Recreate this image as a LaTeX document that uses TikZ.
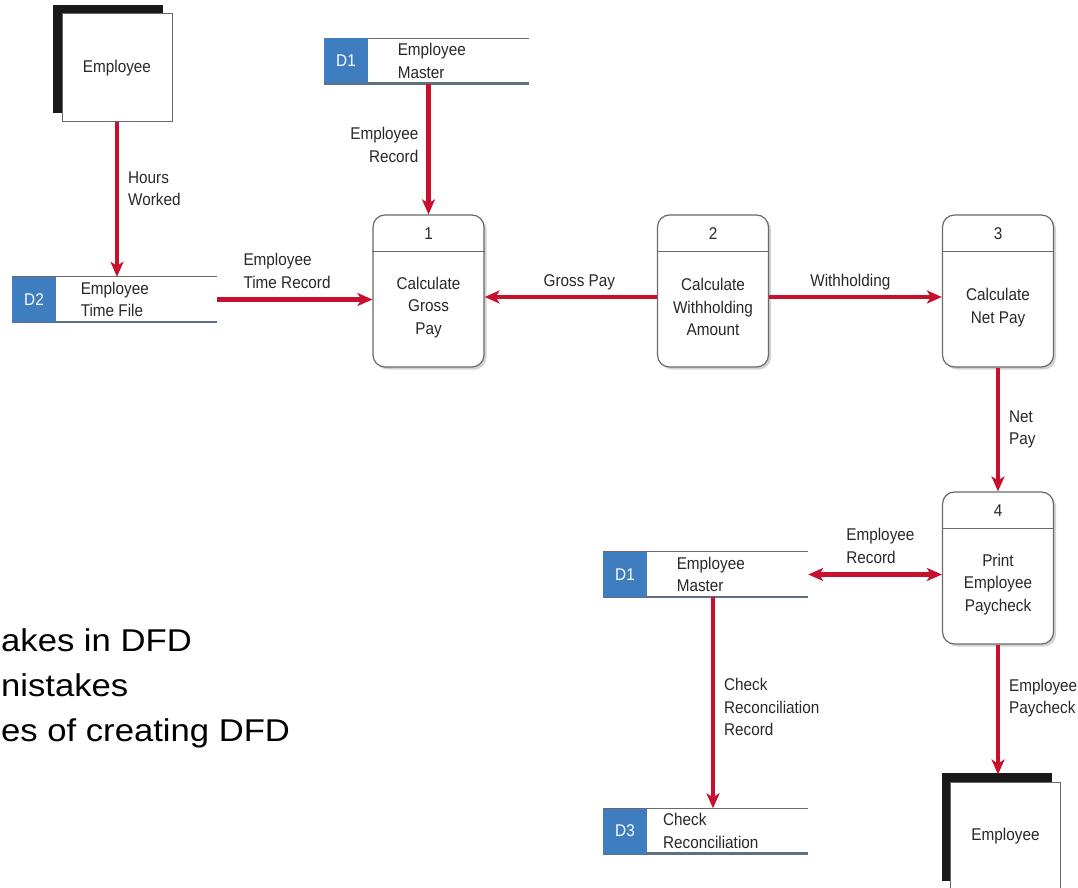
\documentclass[tikz,border=0pt]{standalone}
\usepackage{fontspec}
\setmainfont{Liberation Sans}
\newfontfamily\dfdfont[FakeStretch=0.9]{Liberation Sans}
\newfontfamily\slidefont[FakeStretch=1.1]{Liberation Sans}
\usetikzlibrary{arrows.meta,positioning,shadows}
\definecolor{flowred}{RGB}{200,16,46}
\definecolor{storeblue}{RGB}{61,125,192}
\definecolor{boxgray}{RGB}{105,105,105}
\definecolor{storeline}{RGB}{95,112,130}
\definecolor{labgray}{RGB}{40,40,40}
\tikzset{
  >={Stealth[length=15pt,width=13pt,inset=4pt]},
  lab/.style={font=\dfdfont\fontsize{17}{22.5}\selectfont, text=labgray, inner sep=2pt},
  flow/.style={flowred, line width=4.3pt, ->},
  procbox/.style={draw=boxgray, line width=1.2pt, fill=white, rounded corners=12pt,
    minimum width=111pt, minimum height=152pt, inner sep=0pt,
    drop shadow={shadow xshift=2.5pt, shadow yshift=-2.5pt, opacity=.35}},
  storebox/.style={minimum width=205pt, minimum height=45pt, inner sep=0pt},
  storeid/.style={lab, fill=storeblue, text=white, minimum width=44pt, minimum height=45pt, inner sep=0pt},
  entbox/.style={lab, draw=boxgray, line width=1pt, fill=white, minimum width=110pt, minimum height=108pt,
    general shadow={fill=black!90, shadow xshift=-9pt, shadow yshift=9pt}},
  bullet/.style={anchor=base west, font=\slidefont\fontsize{31.5}{40}\selectfont, inner sep=0pt}
}
% proceso: nombre, posicion, numero, texto
\newcommand{\dfdproc}[4]{%
  \node[procbox] (#1) at (#2) {};
  \draw[boxgray, line width=1.2pt] ([yshift=-37pt]#1.north west) -- ([yshift=-37pt]#1.north east);
  \node[lab] at ([yshift=-19pt]#1.north) {#3};
  \node[lab, align=center] at ([yshift=-93pt]#1.north) {#4};
}
% almacen: [desplazamiento del texto], nombre, posicion, id, texto
\newcommand{\dfdstore}[5][108pt]{%
  \node[storebox] (#2) at (#3) {};
  \draw[boxgray, line width=.8pt] (#2.north west) -- (#2.north east);
  \draw[storeline, line width=2.5pt] (#2.south west) -- (#2.south east);
  \node[storeid, anchor=west] at (#2.west) {#4};
  \node[lab, align=left] at ([xshift=#1]#2.west) {#5};
}
\begin{document}
\begin{tikzpicture}[x=1pt,y=-1pt]
\useasboundingbox (0,0) rectangle (1078,888);
\clip (0,0) rectangle (1078,888);
% Entidades externas
\node[entbox] (emp1) at (117,68) {Employee};
\node[entbox] (emp2) at (1005.5,836) {Employee};
% Almacenes de datos
\dfdstore[103pt]{d2}{114.5,299.5}{D2}{Employee\\Time File}
\dfdstore{d1a}{426.5,61}{D1}{Employee\\Master}
\dfdstore{d1b}{705.5,574.5}{D1}{Employee\\Master}
\dfdstore{d3}{705.5,831}{D3}{Check\\Reconciliation}
% Procesos
\dfdproc{p1}{428.5,291}{1}{Calculate\\Gross\\Pay}
\dfdproc{p2}{713,291}{2}{Calculate\\Withholding\\Amount}
\dfdproc{p3}{998,291}{3}{Calculate\\Net Pay}
\dfdproc{p4}{998,568}{4}{Print\\Employee\\Paycheck}
% Flujos
\draw[flow] (emp1.south) -- (emp1.south |- d2.north)
  node[lab, right=7pt, pos=.43, align=left] {Hours\\Worked};
\draw[flow] (p1.north |- d1a.south) -- (p1.north)
  node[lab, left=6pt, pos=.47, align=right] {Employee\\Record};
\draw[flow] (d2.east) -- (d2.east -| p1.west)
  node[lab, above=7pt, pos=.45, align=left] {Employee\\Time Record};
\draw[flow] ([yshift=-6pt]p2.west) -- ([yshift=-6pt]p1.east)
  node[lab, above=3pt, pos=.45] {Gross Pay};
\draw[flow] ([yshift=-6pt]p2.east) -- ([yshift=-6pt]p3.west)
  node[lab, above=3pt, pos=.47] {Withholding};
\draw[flow] (p3.south) -- (p4.north)
  node[lab, right=7pt, pos=.5, align=left] {Net\\Pay};
\draw[flow, <->] (d1b.east) -- (d1b.east -| p4.west)
  node[lab, above=7pt, pos=.54, align=left] {Employee\\Record};
\draw[flow] ([xshift=7.5pt]d1b.south) -- ([xshift=7.5pt]d3.north)
  node[lab, right=7pt, pos=.52, align=left] {Check\\Reconciliation\\Record};
\draw[flow] (p4.south) -- ([yshift=7pt]emp2.north -| p4.south)
  node[lab, right=7pt, pos=.41, align=left] {Employee\\Paycheck};
% Texto de la diapositiva
\node[bullet] (bl1) at (1,651) {akes in DFD};
\node[bullet] (bl2) at (1,696) {nistakes};
\node[bullet] (bl3) at (1,741) {es of creating DFD};
\end{tikzpicture}
\end{document}
